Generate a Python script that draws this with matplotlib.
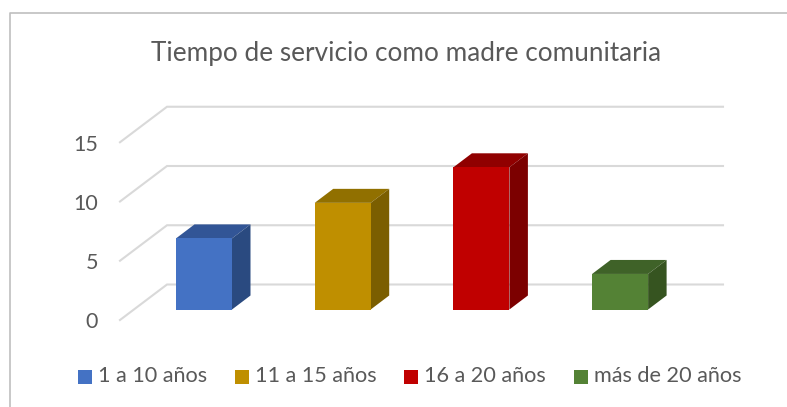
import matplotlib
matplotlib.use("Agg")
import matplotlib.pyplot as plt
from matplotlib.patches import Polygon, Rectangle
from matplotlib.lines import Line2D

categorias = ['1 a 10 años', '11 a 15 años', '16 a 20 años', 'más de 20 años']
valores = [6, 9, 12, 3]
colores = ['#4472C4', '#BF8F00', '#C00000', '#548235']
colores_top = ['#325596', '#917000', '#900000', '#3F6228']
colores_lado = ['#2A4A80', '#7B5E00', '#7C0000', '#365420']
ticks_y = [0, 5, 10, 15]

W, H = 787, 407
plt.rcParams['font.family'] = ['Lato', 'DejaVu Sans']
texto = '#595959'
rejilla = '#D9D9D9'

fig = plt.figure(figsize=(W / 100, H / 100), dpi=100)
ax = fig.add_axes([0, 0, 1, 1])

# escalas: pixeles por categoria y por unidad
px_cat = 138.7
px_val = 11.85
x0 = 204.0
y0 = 309.5
ax.set_xlim(-x0 / px_cat, (W - x0) / px_cat)
ax.set_ylim((y0 - H) / px_val, y0 / px_val)
ax.axis('off')

ancho = 56 / px_cat
dx = 18.5 / px_cat
dy = 14 / px_val

# piso y pared del fondo
gx1 = (120 - x0) / px_cat
gx2 = (167 - x0) / px_cat
gx3 = (723 - x0) / px_cat
gy_front = (y0 - 320) / px_val
gy_back = (y0 - 284.5) / px_val
for t in ticks_y:
    ax.plot([gx1, gx2, gx3], [gy_front + t, gy_back + t, gy_back + t],
            color=rejilla, lw=1.5, solid_joinstyle='miter', zorder=1)
    ax.text(gx1 - 22 / px_cat, gy_front + t - 2.5 / px_val, str(t), color=texto, fontsize=15.5,
            ha='right', va='center', zorder=5)

# barras con su cara superior y lateral
for i, v in enumerate(valores):
    izq = i - ancho / 2
    der = i + ancho / 2
    ax.bar(i, v, width=ancho, color=colores[i], zorder=4)
    ax.add_patch(Polygon([(izq, v), (der, v), (der + dx, v + dy), (izq + dx, v + dy)],
                         closed=True, fc=colores_top[i], ec='none', zorder=3))
    ax.add_patch(Polygon([(der, 0), (der + dx, dy), (der + dx, v + dy), (der, v)],
                         closed=True, fc=colores_lado[i], ec='none', zorder=3))

# marco del grafico, sin lado derecho ni inferior
fig.add_artist(Line2D([9.5 / W, 9.5 / W, 1],
                      [0, 1 - 12.5 / H, 1 - 12.5 / H], color='#BFBFBF', lw=1.2))

fig.text(406 / W, 1 - 54 / H, 'Tiempo de servicio como madre comunitaria',
         color=texto, fontsize=18.8, ha='center', va='center')

# leyenda
leg_x = [78, 235, 404, 574]
for nombre, color, lx in zip(categorias, colores, leg_x):
    fig.add_artist(Rectangle((lx / W, 1 - 384 / H), 14 / W, 14 / H, fc=color, ec='none',
                             transform=fig.transFigure))
    fig.text((lx + 20) / W, 1 - 376.5 / H, nombre, color=texto, fontsize=15.6, va='center')

fig.savefig('out.png', dpi=100)
